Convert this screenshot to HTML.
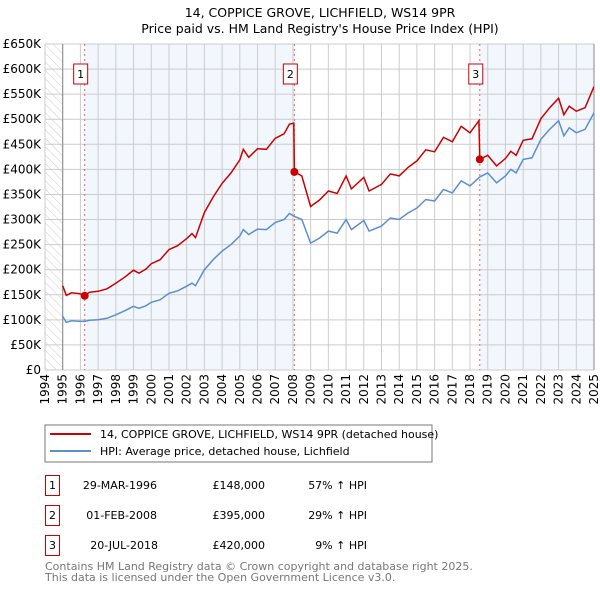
<!DOCTYPE html>
<html><head><meta charset="utf-8"><style>
body{margin:0;background:#fff;width:600px;height:590px;overflow:hidden;font-family:"DejaVu Sans","Liberation Sans",sans-serif}
</style></head><body>
<svg id="chart" width="600" height="590" xmlns="http://www.w3.org/2000/svg" font-family="DejaVu Sans, Liberation Sans, sans-serif">
<text x="320" y="17" text-anchor="middle" font-size="12.5">14, COPPICE GROVE, LICHFIELD, WS14 9PR</text>
<text x="320" y="33" text-anchor="middle" font-size="12.5">Price paid vs. HM Land Registry's House Price Index (HPI)</text>
<defs><pattern id="hatch" width="6" height="6" patternUnits="userSpaceOnUse" patternTransform="rotate(-45)"><line x1="0" y1="0" x2="0" y2="6" stroke="#ccc" stroke-width="1"/></pattern>
<clipPath id="clip"><rect x="45" y="44" width="549" height="326"/></clipPath></defs>
<g id="plot"></g>
<rect x="45" y="425" width="387" height="37" fill="#fff" stroke="#777"/>
<line x1="50" y1="434" x2="91" y2="434" stroke="#cc0000" stroke-width="2"/>
<text x="100" y="438" font-size="11">14, COPPICE GROVE, LICHFIELD, WS14 9PR (detached house)</text>
<line x1="50" y1="451" x2="91" y2="451" stroke="#5b8fd0" stroke-width="2"/>
<text x="100" y="455" font-size="11">HPI: Average price, detached house, Lichfield</text>
<g font-size="11">
<rect x="45.5" y="475.5" width="14" height="20" fill="none" stroke="#cc0000"/><text x="52.5" y="489" text-anchor="middle">1</text>
<text x="157" y="489" text-anchor="end">29-MAR-1996</text><text x="265" y="489" text-anchor="end">£148,000</text><text x="367" y="489" text-anchor="end">57% ↑ HPI</text>
<rect x="45.5" y="505.5" width="14" height="20" fill="none" stroke="#cc0000"/><text x="52.5" y="519" text-anchor="middle">2</text>
<text x="157" y="519" text-anchor="end">01-FEB-2008</text><text x="265" y="519" text-anchor="end">£395,000</text><text x="367" y="519" text-anchor="end">29% ↑ HPI</text>
<rect x="45.5" y="535.5" width="14" height="20" fill="none" stroke="#cc0000"/><text x="52.5" y="549" text-anchor="middle">3</text>
<text x="158" y="549" text-anchor="end">20-JUL-2018</text><text x="265" y="549" text-anchor="end">£420,000</text><text x="367" y="549" text-anchor="end">9% ↑ HPI</text>
</g>
<text x="45" y="570" font-size="11" fill="#777">Contains HM Land Registry data © Crown copyright and database right 2025.</text>
<text x="45" y="581" font-size="11" fill="#777">This data is licensed under the Open Government Licence v3.0.</text>
</svg>
<script>
const yTicks=[0,50,100,150,200,250,300,350,400,450,500,550,600,650];
const yTickLabels=["£0","£50K","£100K","£150K","£200K","£250K","£300K","£350K","£400K","£450K","£500K","£550K","£600K","£650K"];
const xYears=[1994,1995,1996,1997,1998,1999,2000,2001,2002,2003,2004,2005,2006,2007,2008,2009,2010,2011,2012,2013,2014,2015,2016,2017,2018,2019,2020,2021,2022,2023,2024,2025];
const hpiX=[1995.0,1995.2,1995.5,1996.0,1996.25,1996.5,1997.0,1997.5,1998.0,1998.5,1999.0,1999.3,1999.7,2000.0,2000.5,2001.0,2001.5,2002.0,2002.3,2002.5,2003.0,2003.5,2004.0,2004.5,2005.0,2005.2,2005.5,2006.0,2006.5,2007.0,2007.5,2007.8,2008.08,2008.5,2009.0,2009.5,2010.0,2010.5,2011.0,2011.3,2012.0,2012.3,2013.0,2013.5,2014.0,2014.5,2015.0,2015.5,2016.0,2016.5,2017.0,2017.5,2018.0,2018.55,2019.0,2019.5,2020.0,2020.3,2020.6,2021.0,2021.5,2022.0,2022.5,2023.0,2023.3,2023.6,2024.0,2024.5,2025.0];
const hpiV=[107,95,98,97,97,99,100,103,110,118,127,123,128,135,140,153,158,167,173,168,200,220,237,250,267,280,270,281,280,294,300,312,306,300,253,263,277,273,300,280,298,277,287,303,300,313,323,340,337,360,353,377,367,385,393,373,387,400,393,420,423,460,480,497,467,483,473,480,513];
const priceX=[1995.0,1995.2,1995.5,1996.0,1996.25,1996.5,1997.0,1997.5,1998.0,1998.5,1999.0,1999.3,1999.7,2000.0,2000.5,2001.0,2001.5,2002.0,2002.3,2002.5,2003.0,2003.5,2004.0,2004.5,2005.0,2005.2,2005.5,2006.0,2006.5,2007.0,2007.5,2007.8,2008.05,2008.08,2008.5,2009.0,2009.5,2010.0,2010.5,2011.0,2011.3,2012.0,2012.3,2013.0,2013.5,2014.0,2014.5,2015.0,2015.5,2016.0,2016.5,2017.0,2017.5,2018.0,2018.5,2018.55,2019.0,2019.5,2020.0,2020.3,2020.6,2021.0,2021.5,2022.0,2022.5,2023.0,2023.3,2023.6,2024.0,2024.5,2025.0];
const priceV=[168,149,154,152,148,155,157,162,173,185,199,193,201,212,220,240,248,262,272,264,314,345,372,393,419,440,424,441,440,462,471,490,492,395,387,326,339,357,352,387,361,384,357,370,391,387,404,417,439,435,464,455,486,473,497,420,428,407,422,436,428,458,461,501,523,542,509,526,516,523,565];
const saleX=[1996.24,2008.08,2018.55];
const saleV=[148,395,420];
const saleLabels=["1","2","3"];

const NS="http://www.w3.org/2000/svg";
const X0=45,X1=594,Y0=370,Y1=44;
const xs=y=>X0+(y-1994)/(2025-1994)*(X1-X0);
const ys=v=>Y0-v/650*(Y0-Y1);
const plot=document.getElementById('plot');
function mk(tag,attrs,parent){const e=document.createElementNS(NS,tag);for(const k in attrs)e.setAttribute(k,attrs[k]);(parent||plot).appendChild(e);return e;}
let e;
e=mk('rect',{x:X0,y:Y1,width:X1-X0,height:Y0-Y1,fill:'#fff'});
e=mk('rect',{x:X0,y:Y1,width:xs(1995)-X0,height:Y0-Y1,fill:'url(#hatch)'});


e=mk('rect',{x:xs(saleX[0]),y:Y1,width:xs(saleX[1])-xs(saleX[0]),height:Y0-Y1,fill:'#eef3fc',opacity:0.75});


e=mk('rect',{x:xs(saleX[2]),y:Y1,width:X1-xs(saleX[2]),height:Y0-Y1,fill:'#eef3fc',opacity:0.75});


yTicks.forEach((t,i)=>{
  e=mk('line',{x1:X0,x2:X1,y1:ys(t),y2:ys(t),stroke:'#ccc','stroke-width':1});
  
  
  e=mk('text',{x:X0-4,y:ys(t)+4,'text-anchor':'end','font-size':12});
  e.textContent=yTickLabels[i];
  
  
});
xYears.forEach(yr=>{
  e=mk('line',{x1:xs(yr),x2:xs(yr),y1:Y1,y2:Y0,stroke:'#ccc','stroke-width':1});
  
  
  const tx=xs(yr)+4, ty=Y0+4;
  e=mk('text',{x:tx,y:ty,'text-anchor':'end','font-size':12,transform:`rotate(-90 ${tx} ${ty})`});
  e.textContent=yr;
  
  
});
e=mk('line',{x1:xs(1995),x2:xs(1995),y1:Y1,y2:Y0,stroke:'#888'});
e=mk('line',{x1:X1,x2:X1,y1:Y1,y2:Y0,stroke:'#888'});
saleX.forEach((sx,i)=>{
  e=mk('line',{x1:xs(sx),x2:xs(sx),y1:Y1,y2:Y0,stroke:'#e06666','stroke-dasharray':'2,3'});
  
  
});
const pts=(X,V)=>X.map((x,i)=>xs(x).toFixed(1)+','+ys(V[i]).toFixed(1)).join(' ');
e=mk('polyline',{points:pts(hpiX,hpiV),fill:'none',stroke:'#5b8fd0','stroke-width':1.5,'clip-path':'url(#clip)'});


e=mk('polyline',{points:pts(priceX,priceV),fill:'none',stroke:'#cc0000','stroke-width':1.5,'clip-path':'url(#clip)'});


saleX.forEach((sx,i)=>{
  e=mk('circle',{cx:xs(sx),cy:ys(saleV[i]),r:4,fill:'#cc0000'});
  
  
  e=mk('rect',{x:xs(sx)-11,y:64,width:14,height:20,fill:'#fff',stroke:'#cc0000'});
  
  
  e=mk('text',{x:xs(sx)-4,y:78,'text-anchor':'middle','font-size':11});
  e.textContent=saleLabels[i];
  
  
});
</script>
</body></html>
